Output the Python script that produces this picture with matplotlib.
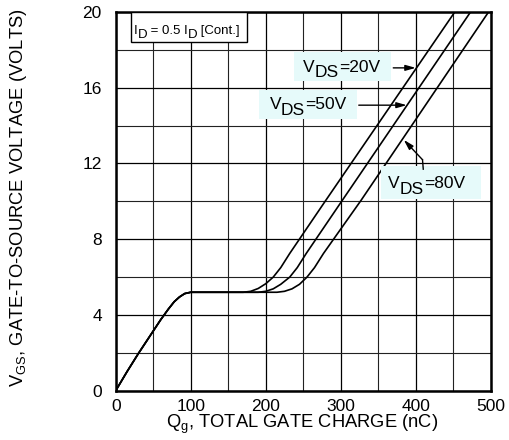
import matplotlib
matplotlib.use("Agg")
import matplotlib.pyplot as plt
from matplotlib.patches import Rectangle
from matplotlib.ticker import MultipleLocator

plt.rcParams["font.family"] = ["Liberation Sans", "DejaVu Sans"]

# --- data ------------------------------------------------------------------
# shared rise up to the Miller plateau (nC, V)
rise_q = [0, 15, 30, 45, 60, 70, 78, 85, 92, 100, 110]
rise_v = [0, 1.0, 1.95, 2.85, 3.75, 4.3, 4.7, 4.95, 5.13, 5.2, 5.2]

vds20_q = rise_q + [170, 180, 190, 200, 210, 220, 232, 280, 452]
vds20_v = rise_v + [5.2, 5.25, 5.4, 5.65, 6.0, 6.5, 7.25, 10.05, 20.0]

vds50_q = rise_q + [190, 200, 210, 220, 232, 242, 254, 302, 473]
vds50_v = rise_v + [5.2, 5.25, 5.38, 5.62, 6.0, 6.5, 7.25, 10.05, 20.0]

vds80_q = rise_q + [215, 225, 235, 245, 255, 265, 277, 327, 497]
vds80_v = rise_v + [5.2, 5.25, 5.38, 5.62, 6.0, 6.5, 7.25, 10.05, 20.0]

x_ticks = [0, 100, 200, 300, 400, 500]
y_ticks = [0, 4, 8, 12, 16, 20]

LABEL_BG = "#e6fafa"


def chain_text(ax, x, y, parts, fontsize):
    """Write text pieces side by side; each piece is (string, baseline shift in pt)."""
    prev = ax.text(x, y, parts[0][0], fontsize=fontsize, ha="left", va="baseline", zorder=4)
    prev_dy = parts[0][1]
    for s, dy in parts[1:]:
        prev = ax.annotate(s, xy=(1, 0), xycoords=prev, xytext=(0, dy - prev_dy),
                           textcoords="offset points", fontsize=fontsize,
                           ha="left", va="bottom", zorder=4)
        prev_dy = dy


fig = plt.figure(figsize=(5.09, 4.40), dpi=100)
ax = fig.add_axes([0.2273, 0.112, 0.7369, 0.8607])

ax.set_xlim(0, 500)
ax.set_ylim(0, 20)
ax.set_xticks(x_ticks)
ax.set_yticks(y_ticks)
ax.xaxis.set_minor_locator(MultipleLocator(50))
ax.yaxis.set_minor_locator(MultipleLocator(2))
ax.grid(which="major", color="black", lw=0.9)
ax.grid(which="minor", color="#222222", lw=0.8)
ax.tick_params(which="both", length=0, labelsize=12.5)
ax.tick_params(axis="y", pad=10)
ax.tick_params(axis="x", pad=6)
for sp in ax.spines.values():
    sp.set_linewidth(1.8)
ax.set_axisbelow(True)

for q, v in [(vds20_q, vds20_v), (vds50_q, vds50_v), (vds80_q, vds80_v)]:
    ax.plot(q, v, color="black", lw=1.2, solid_joinstyle="round")

ax.set_xlabel("Q$_\\mathregular{g}$, TOTAL GATE CHARGE (nC)", fontsize=13.2)
ax.xaxis.set_label_coords(0.498, -0.058)
ax.set_ylabel("V$_\\mathregular{GS}$, GATE-TO-SOURCE VOLTAGE (VOLTS)", fontsize=13.2)
ax.yaxis.set_label_coords(-0.232, 0.51)

# condition box
ax.add_patch(Rectangle((20, 18.4), 154.7, 1.58, fc="white", ec="black", lw=1, zorder=3))
chain_text(ax, 24, 18.85, [("I", 0), ("D", -3), (" = 0.5 I", 0), ("D", -3), (" [Cont.]", 0)], 9.5)

arrow = dict(arrowstyle="-|>,head_length=0.6,head_width=0.17", color="black", lw=1,
             shrinkA=0, shrinkB=0)

# VDS = 20 V
ax.add_patch(Rectangle((237.7, 16.36), 129.3, 1.53, fc=LABEL_BG, ec="none", zorder=3))
chain_text(ax, 250, 16.85, [("V", 0), ("DS", -4), ("=20V", 0)], 12.5)
ax.annotate("", xy=(400, 17.05), xytext=(370, 17.05), arrowprops=arrow)

# VDS = 50 V
ax.add_patch(Rectangle((191, 14.35), 130.7, 1.53, fc=LABEL_BG, ec="none", zorder=3))
chain_text(ax, 205, 14.87, [("V", 0), ("DS", -4), ("=50V", 0)], 12.5)
ax.annotate("", xy=(388, 15.08), xytext=(324, 15.08), arrowprops=arrow)

# VDS = 80 V
ax.add_patch(Rectangle((353.7, 10.13), 133.3, 1.74, fc=LABEL_BG, ec="none", zorder=3))
chain_text(ax, 363, 10.68, [("V", 0), ("DS", -4), ("=80V", 0)], 12.5)
ax.plot([410, 409], [11.7, 12.2], color="black", lw=1, zorder=4)
ax.annotate("", xy=(384, 13.25), xytext=(409, 12.2), arrowprops=arrow)

fig.savefig("out.png", dpi=100)
